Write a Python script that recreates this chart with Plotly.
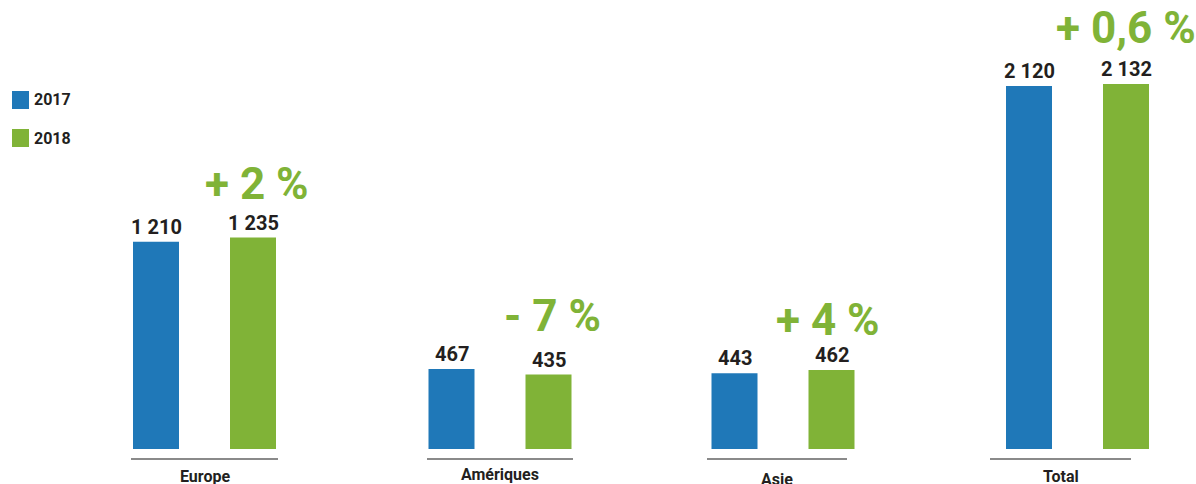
import plotly.graph_objects as go

# ---- data ----
categories = ["Europe", "Amériques", "Asie", "Total"]
years = ["2017", "2018"]
values_2017 = [1210, 467, 443, 2120]
values_2018 = [1235, 435, 462, 2132]
change_labels = ["+ 2 %", "- 7 %", "+ 4 %", "+ 0,6 %"]

# ---- layout / style ----
W, H = 1196, 484
BLUE = "#1f78b8"
GREEN = "#80b337"
DARK = "#231f20"
FONT = "Roboto"

group_centers = [204.5, 500, 783, 1077.5]   # pixel-like x coordinates
bar_offset = 48.5
bar_width = 46
axis_centers = [204.5, 500, 777, 1060.5]
axis_half = [73.5, 73, 70, 70.5]
change_xshift = [4, 4, -4, 0]
change_yshift = [54, 59, 50, 56]
label_dy = [-27, -25, -30, -27]

px_per_unit = 0.1712
baseline_px = 449
y_max = baseline_px / px_per_unit
y_min = -(H - baseline_px) / px_per_unit

def fmt(v):
    return f"{v:,}".replace(",", " ")

x17 = [c - bar_offset for c in group_centers]
x18 = [c + bar_offset for c in group_centers]

fig = go.Figure()
fig.add_trace(go.Bar(x=x17, y=values_2017, width=bar_width, marker_color=BLUE,
                     marker_line_width=0, name=years[0], showlegend=False))
fig.add_trace(go.Bar(x=x18, y=values_2018, width=bar_width, marker_color=GREEN,
                     marker_line_width=0, name=years[1], showlegend=False))

annotations = []
for xs, vals in ((x17, values_2017), (x18, values_2018)):
    for x, v in zip(xs, vals):
        annotations.append(dict(x=x, y=v, text=f"<b>{fmt(v)}</b>", showarrow=False,
                                yanchor="bottom", yshift=1,
                                font=dict(family=FONT, size=20, color=DARK)))

for i, lab in enumerate(change_labels):
    annotations.append(dict(x=x18[i], y=values_2018[i], text=f"<b>{lab}</b>", showarrow=False,
                            yanchor="middle", xshift=change_xshift[i], yshift=change_yshift[i],
                            font=dict(family=FONT, size=44, color=GREEN)))

axis_y = -10 / px_per_unit
shapes = []
for i, cat in enumerate(categories):
    shapes.append(dict(type="line", xref="x", yref="y",
                       x0=axis_centers[i] - axis_half[i], x1=axis_centers[i] + axis_half[i],
                       y0=axis_y, y1=axis_y, line=dict(color="#8a8a8a", width=2)))
    annotations.append(dict(x=axis_centers[i], y=label_dy[i] / px_per_unit, text=f"<b>{cat}</b>",
                            showarrow=False, yanchor="middle",
                            font=dict(family=FONT, size=16, color=DARK)))

# custom legend
legend_colors = [BLUE, GREEN]
legend_y_px = [100, 138]
for col, yr, ypx in zip(legend_colors, years, legend_y_px):
    shapes.append(dict(type="rect", xref="paper", yref="paper",
                       x0=12 / W, x1=29 / W, y0=1 - (ypx + 9) / H, y1=1 - (ypx - 9) / H,
                       fillcolor=col, line_width=0))
    annotations.append(dict(xref="paper", yref="paper", x=32 / W, y=1 - ypx / H,
                            xanchor="left", yanchor="middle", text=f"<b>{yr}</b>",
                            showarrow=False, font=dict(family=FONT, size=16, color=DARK)))

fig.update_layout(
    width=W, height=H,
    margin=dict(l=0, r=0, t=0, b=0),
    paper_bgcolor="white", plot_bgcolor="white",
    xaxis=dict(range=[0, W], visible=False),
    yaxis=dict(range=[y_min, y_max], visible=False),
    annotations=annotations, shapes=shapes,
    showlegend=False,
    hovermode=False,
    font=dict(family=FONT),
)

fig.write_html("out.html", config={"displayModeBar": False, "staticPlot": True})

# remove the default body margin so the figure fills the window exactly
with open("out.html", encoding="utf-8") as f:
    html = f.read()
html = html.replace("<body>", '<body style="margin:0;padding:0;overflow:hidden">', 1)
with open("out.html", "w", encoding="utf-8") as f:
    f.write(html)
